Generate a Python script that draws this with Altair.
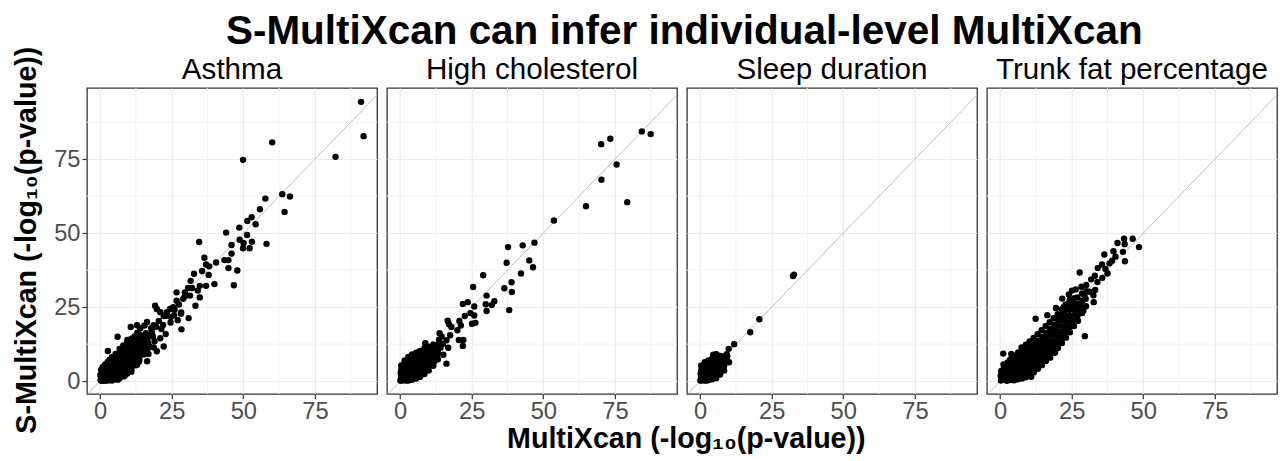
import altair as alt
import pandas as pd

FONT = "Liberation Sans"

main_title = "S-MultiXcan can infer individual-level MultiXcan"
x_label = "MultiXcan (-log\u2081\u2080(p-value))"
y_label = "S-MultiXcan (-log\u2081\u2080(p-value))"
panel_names = ["Asthma", "High cholesterol", "Sleep duration", "Trunk fat percentage"]
tick_values = [0, 25, 50, 75]
minor_values = [12.5, 37.5, 62.5, 87.5]
diag_ends = [-10, 110]

# ---- Asthma ----
asthma_x = [91.1, 92.0, 82.2, 60.1, 49.9, 63.6, 66.3, 64.4, 57.7, 55.8, 51.4, 52.9, 54.3, 48.6, 51.3,
            44.0, 48.7, 50.1, 53.0, 52.2, 49.9, 58.1, 45.9, 34.6, 45.9, 43.4, 44.8, 44.8, 47.9, 46.7,
            39.9, 40.5, 36.4, 37.0, 38.1, 35.6, 32.8, 37.9, 34.8, 37.0, 31.6, 30.7, 34.1, 34.8, 33.3,
            29.6, 29.0, 26.7, 26.7, 28.2, 30.9, 28.4, 25.5, 24.4, 23.3, 22.2, 24.7, 19.2, 19.8, 21.0,
            22.2, 19.8, 18.7, 16.4, 18.1, 14.1, 12.9, 10.7, 6.1, 2.7, 9.5, 11.8, 12.9, 16.4, 15.2,
            11.2, 7.2,
            0.2, 0.5, 0.8, 1.2, 1.5, 2.0, 2.3, 2.8, 3.1, 3.5, 4.0, 4.2, 4.6, 5.1, 5.5, 5.8, 6.2, 6.6,
            7.0, 7.3, 7.8, 8.2, 8.5, 9.0, 9.3, 9.8, 10.2, 10.6, 11.0, 11.5, 11.9, 12.4, 12.9, 13.3,
            13.8, 14.4, 14.8, 15.3, 16.0, 16.5, 17.1, 17.8, 18.4, 19.0, 0.1, 0.4, 0.9, 1.3, 1.8, 2.6,
            3.3, 0.3, 1.0, 1.7, 2.4, 3.0, 3.7, 4.4, 5.0, 5.9, 6.9, 7.5, 8.8, 10.0, 11.2, 12.0, 13.0,
            14.0, 15.5, 0.6, 1.9, 3.4, 4.8, 6.0, 7.4, 8.9, 10.4, 20.5, 21.4, 22.0, 19.6, 23.1, 21.0,
            18.7, 16.9, 24.6, 26.0, 27.5, 28.3, 29.5, 31.4, 32.1, 22.9, 25.8, 27.1,
            1.1, 2.1, 3.2, 4.3, 5.3, 6.4, 7.7, 8.6, 9.6, 10.9, 12.2, 13.6, 0.7, 1.6, 2.7, 3.9, 5.2,
            0.5, 0.5, 0.5, 1.6, 1.6, 1.6, 1.6, 2.9, 2.9, 2.9, 2.9, 2.9, 4.1, 4.1, 4.1, 4.1, 4.1, 4.1,
            5.4, 5.4, 5.4, 5.4, 5.4, 5.4, 6.8, 6.8, 6.8, 6.8, 6.8, 6.8, 6.8, 8.1, 8.1, 8.1, 8.1, 8.1,
            8.1, 8.1, 9.5, 9.5, 9.5, 9.5, 9.5, 9.5, 9.5, 10.9, 10.9, 10.9, 10.9, 10.9, 10.9, 10.9,
            12.3, 12.3, 12.3, 12.3, 12.3, 12.3, 13.7, 13.7, 13.7, 13.7, 13.7, 15.1, 15.1, 15.1, 15.1,
            16.6, 16.6, 16.6]
asthma_y = [94.4, 82.8, 75.8, 80.7, 74.8, 63.2, 62.4, 57.2, 61.7, 58.1, 54.1, 55.4, 53.0, 51.9, 49.4,
            50.2, 47.8, 46.7, 47.1, 44.9, 44.9, 46.4, 46.0, 47.0, 43.1, 40.9, 40.9, 38.2, 37.4, 32.4,
            32.8, 40.1, 41.7, 39.4, 38.8, 37.2, 36.3, 35.9, 32.2, 32.2, 33.9, 31.5, 30.6, 28.3, 25.5,
            30.0, 27.8, 30.0, 27.2, 22.8, 21.3, 17.5, 25.0, 24.4, 23.3, 22.0, 21.7, 25.5, 24.4, 23.3,
            11.7, 10.1, 18.9, 20.0, 16.7, 15.5, 18.9, 18.3, 15.0, 10.2, 13.9, 12.8, 5.5, 6.7, 11.1,
            8.9, 8.9,
            0.3, 1.0, 0.2, 1.8, 0.6, 2.5, 1.1, 0.3, 3.4, 1.9, 0.8, 4.6, 2.9, 1.5, 5.8, 3.7, 0.5, 6.9,
            4.5, 2.2, 8.1, 5.9, 3.4, 9.4, 7.1, 5.0, 10.8, 8.2, 6.3, 12.0, 9.5, 7.8, 13.4, 11.0,
            9.2, 14.9, 12.5, 10.6, 16.2, 13.9, 12.0, 17.9, 15.2, 13.5, 2.1, 3.9, 4.8, 3.2, 5.6, 6.4,
            7.2, 1.5, 0.9, 2.4, 3.6, 2.0, 5.1, 3.8, 6.8, 7.6, 8.6, 6.4, 10.9, 12.6, 13.7, 15.1, 16.4,
            17.8, 18.8, 0.1, 0.4, 0.9, 1.0, 2.6, 3.8, 4.2, 4.9, 20.3, 17.6, 19.0, 18.4, 22.1, 14.5,
            11.4, 9.2, 19.8, 24.1, 25.9, 23.2, 28.6, 28.9, 31.5, 15.9, 22.3, 20.6,
            0.1, 0.2, 0.4, 2.0, 3.0, 1.3, 2.9, 1.8, 4.1, 3.2, 5.4, 6.6, 2.9, 4.2, 5.0, 6.1, 4.0,
            0.3, 2.0, 3.6, 0.2, 1.9, 3.5, 5.1, 0.4, 2.1, 3.8, 5.5, 6.6, 0.2, 1.9, 3.6, 5.3, 7.0, 8.1,
            0.6, 2.3, 4.0, 5.7, 7.4, 9.2, 1.0, 2.7, 4.4, 6.1, 7.8, 9.6, 10.9, 1.6, 3.3, 5.0, 6.7, 8.4,
            10.2, 12.1, 2.6, 4.3, 6.0, 7.7, 9.4, 11.2, 13.0, 3.9, 5.6, 7.3, 9.0, 10.7, 12.6, 14.3,
            5.4, 7.1, 8.8, 10.5, 12.2, 14.1, 7.2, 8.9, 10.6, 12.3, 14.0, 9.0, 10.8, 12.6, 14.5,
            11.0, 13.1, 15.2]

# ---- High cholesterol ----
chol_x = [84.4, 87.5, 73.4, 70.2, 75.6, 70.3, 79.3, 64.9, 53.7, 46.9, 42.8, 37.7, 37.2, 45.1, 46.4,
          42.2, 29.0, 38.9, 36.4, 39.0, 25.5, 30.2, 32.9, 32.0, 29.9, 30.2, 38.1, 21.9, 23.6, 25.9,
          24.6, 25.9, 25.1, 26.3, 22.6, 20.7, 21.2, 20.0, 17.1, 16.6, 17.9, 20.5, 22.1, 21.9, 17.5,
          13.8, 14.5, 16.8, 16.2, 12.0, 8.8, 10.5, 12.8, 15.1,
          0.1, 0.4, 0.7, 1.0, 1.3, 1.6, 1.9, 2.2, 2.5, 2.8, 3.1, 3.5, 3.9, 4.2, 4.6, 5.0, 5.4, 5.8,
          6.2, 6.6, 7.1, 7.5, 8.0, 8.5, 9.0, 9.6, 10.2, 10.8, 11.5, 12.3, 13.0, 0.2, 0.5, 0.9, 1.5,
          2.2, 3.0, 0.3, 1.1, 2.0, 3.3, 4.4, 5.6, 6.8, 7.8, 9.3, 0.6, 1.8, 3.6, 5.2, 7.0, 14.1, 15.0,
          13.6, 16.2, 11.6, 12.8, 0.8, 2.4, 4.0, 5.3, 6.4, 8.3, 9.9, 11.2,
          0.4, 0.4, 0.4, 0.4, 1.6, 1.6, 1.6, 1.6, 1.6, 2.9, 2.9, 2.9, 2.9, 2.9, 2.9, 4.2, 4.2, 4.2,
          4.2, 4.2, 4.2, 5.6, 5.6, 5.6, 5.6, 5.6, 5.6, 7.0, 7.0, 7.0, 7.0, 7.0, 7.0, 8.5, 8.5, 8.5,
          8.5, 8.5, 8.5, 10.0, 10.0, 10.0, 10.0, 10.0, 11.6, 11.6, 11.6, 11.6, 13.2, 13.2, 13.2]
chol_y = [84.4, 83.5, 81.9, 80.1, 73.2, 68.1, 60.5, 59.1, 54.3, 46.8, 45.9, 45.3, 40.0, 40.8, 38.5,
          36.4, 35.8, 33.4, 31.4, 30.1, 31.8, 28.9, 27.0, 25.7, 26.0, 23.7, 24.0, 26.1, 26.7, 25.2,
          23.0, 22.2, 19.4, 19.7, 22.0, 20.3, 18.8, 17.2, 19.2, 20.4, 18.3, 13.9, 13.9, 11.9, 15.5,
          16.2, 15.0, 11.3, 5.9, 6.7, 12.8, 11.1, 12.2, 8.9,
          0.2, 1.2, 0.3, 2.2, 0.8, 3.1, 1.6, 0.2, 4.0, 2.5, 1.0, 4.8, 3.2, 1.8, 5.6, 4.1, 2.4, 6.5,
          4.9, 3.1, 7.4, 5.8, 4.0, 8.3, 6.6, 5.0, 9.6, 7.5, 6.2, 10.7, 9.1, 2.8, 4.3, 5.2, 6.0,
          6.8, 7.5, 1.6, 1.3, 3.4, 2.6, 3.9, 5.3, 6.0, 7.0, 8.0, 0.6, 0.5, 0.6, 1.2, 2.2, 11.3, 12.6,
          14.0, 13.8, 12.4, 8.0, 3.9, 5.8, 6.9, 8.4, 9.8, 10.1, 11.6, 9.4,
          0.2, 1.9, 3.6, 5.3, 0.3, 2.0, 3.7, 5.4, 7.0, 0.2, 1.9, 3.6, 5.3, 7.1, 8.2, 0.5, 2.2, 3.9,
          5.6, 7.3, 9.0, 0.9, 2.6, 4.3, 6.0, 7.7, 9.6, 1.5, 3.2, 4.9, 6.6, 8.3, 10.2, 2.4, 4.1, 5.8,
          7.5, 9.4, 11.1, 3.6, 5.3, 7.0, 8.8, 10.6, 5.2, 7.0, 8.9, 10.9, 7.4, 9.6, 11.8]

# ---- Sleep duration ----
sleep_x = [32.8, 32.4, 20.7, 17.5, 11.9, 10.0, 10.1, 9.3, 1.7, 4.6, 5.7, 8.0,
           0.1, 0.4, 0.7, 1.0, 1.3, 1.6, 1.9, 2.3, 2.6, 3.0, 3.4, 3.8, 4.2, 4.6, 5.0, 5.5, 6.0,
           6.5, 7.1, 7.7, 8.3, 8.9, 0.2, 0.6, 1.2, 2.0, 2.9, 3.8, 4.7, 5.6, 6.4, 7.3, 0.3, 1.5,
           2.5, 3.6, 4.8, 5.8, 0.5, 1.7, 3.0, 4.3, 9.5, 8.0,
           0.4, 0.4, 0.4, 0.4, 1.6, 1.6, 1.6, 1.6, 1.6, 2.9, 2.9, 2.9, 2.9, 2.9, 4.2, 4.2, 4.2, 4.2,
           4.2, 5.6, 5.6, 5.6, 5.6, 5.6, 7.0, 7.0, 7.0, 7.0, 7.0, 8.4, 8.4, 8.4, 8.4]
sleep_y = [36.0, 35.5, 20.9, 16.5, 12.5, 10.9, 6.4, 9.1, 5.9, 8.9, 9.1, 8.3,
           0.2, 1.1, 0.3, 1.9, 0.7, 2.6, 1.4, 0.2, 3.2, 2.0, 0.8, 3.9, 2.7, 1.5, 4.6, 3.4, 2.3,
           5.4, 4.2, 6.2, 5.1, 7.0, 2.5, 3.5, 4.2, 5.0, 5.8, 6.6, 7.3, 8.1, 7.0, 7.9, 1.5, 1.0,
           2.2, 1.6, 3.0, 4.0, 0.6, 0.4, 0.5, 0.9, 8.3, 7.6,
           0.3, 2.0, 3.7, 5.2, 0.2, 1.9, 3.6, 5.3, 6.4, 0.4, 2.1, 3.8, 5.5, 7.0, 0.6, 2.3, 4.0, 5.7,
           7.5, 1.0, 2.7, 4.4, 6.1, 7.8, 2.2, 3.9, 5.6, 7.3, 8.5, 3.6, 5.3, 7.0, 8.2]

# ---- Trunk fat percentage ----
trunk_x = [48.5, 46.3, 43.3, 41.0, 43.5, 42.9, 43.6, 39.6, 36.4, 39.1, 35.6, 34.1, 35.7, 31.8, 27.8,
           28.4, 30.1, 33.2, 29.5, 32.7, 27.3, 29.1, 29.6, 25.7, 22.9, 19.2, 17.5, 10.9, 1.1, 3.9,
           12.4, 16.5, 21.7, 25.1,
           0.3, 0.2, 0.4, 1.2, 1.1, 1.3, 1.2, 2.4, 2.5, 2.3, 2.4, 2.6, 3.6, 3.5, 3.7, 3.6, 3.5,
           4.9, 5.0, 4.8, 4.9, 5.1, 4.8, 6.2, 6.1, 6.3, 6.2, 6.0, 6.3, 7.6, 7.5, 7.7, 7.6, 7.4, 7.7,
           7.5, 9.0, 8.9, 9.1, 9.0, 8.8, 9.1, 9.0, 10.4, 10.3, 10.5, 10.4, 10.2, 10.5, 10.3, 11.8,
           11.7, 11.9, 11.8, 11.6, 11.9, 11.7, 13.2, 13.1, 13.3, 13.2, 13.0, 13.3, 13.1, 14.6, 14.5,
           14.7, 14.6, 14.4, 14.7, 14.5, 16.0, 15.9, 16.1, 16.0, 15.8, 16.1, 15.9, 17.4, 17.3, 17.5,
           17.4, 17.2, 17.5, 17.3, 18.8, 18.7, 18.9, 18.8, 18.6, 18.9, 18.7, 20.2, 20.1, 20.3, 20.2,
           20.0, 20.3, 20.1, 21.6, 21.5, 21.7, 21.6, 21.4, 21.7, 21.5, 23.0, 22.9, 23.1, 23.0, 22.8,
           23.1, 22.9, 24.4, 24.3, 24.5, 24.4, 24.2, 24.5, 24.3, 25.8, 25.7, 25.9, 25.8, 25.6, 25.9,
           27.2, 27.1, 27.3, 27.2, 27.0, 28.6, 28.5, 28.7, 28.6, 30.0, 29.9, 30.1,
           31.2, 32.6, 34.0, 33.1, 36.8, 38.2, 37.5, 40.3, 26.4, 24.0, 22.2, 19.5]
trunk_y = [45.3, 48.1, 48.1, 46.7, 46.3, 43.7, 40.5, 43.9, 42.8, 40.7, 39.4, 38.2, 34.9, 34.4, 36.7,
           31.9, 32.5, 30.8, 28.9, 26.7, 25.5, 23.8, 15.2, 18.6, 18.6, 9.7, 8.0, 1.5, 9.3, 9.2,
           21.1, 22.3, 27.9, 30.6,
           0.2, 1.8, 3.4, 0.5, 2.3, 4.1, 5.6, 0.1, 1.6, 3.3, 5.0, 6.3, 0.4, 2.2, 4.0, 5.8, 7.2,
           0.3, 1.9, 3.7, 5.4, 7.1, 8.6, 0.6, 2.5, 4.3, 6.1, 7.9, 9.7, 0.9, 2.7, 4.6, 6.4, 8.3, 10.2,
           11.4, 1.3, 3.2, 5.0, 6.9, 8.7, 10.6, 12.3, 2.1, 4.0, 5.9, 7.7, 9.6, 11.5, 13.4, 3.0,
           4.9, 6.8, 8.7, 10.6, 12.5, 14.6, 4.2, 6.1, 8.0, 9.9, 11.8, 13.7, 15.9, 5.4, 7.3,
           9.2, 11.1, 13.0, 14.9, 17.2, 6.8, 8.7, 10.6, 12.5, 14.4, 16.3, 18.6, 8.1, 10.0, 11.9,
           13.8, 15.7, 17.6, 19.9, 9.6, 11.5, 13.4, 15.3, 17.2, 19.1, 21.3, 11.2, 13.1, 15.0, 16.9,
           18.8, 20.7, 22.6, 12.9, 14.8, 16.7, 18.6, 20.5, 22.4, 24.2, 14.7, 16.6, 18.5, 20.4, 22.3,
           24.2, 25.9, 16.5, 18.4, 20.3, 22.2, 24.1, 26.0, 27.4, 18.6, 20.5, 22.4, 24.3, 26.2, 28.0,
           20.4, 22.3, 24.2, 26.1, 28.3, 23.0, 25.0, 27.1, 29.6, 25.3, 27.8, 30.4,
           30.2, 29.0, 33.5, 35.6, 37.9, 39.8, 36.4, 42.1, 31.0, 29.3, 25.1, 24.7]

panels_data = [(asthma_x, asthma_y), (chol_x, chol_y), (sleep_x, sleep_y), (trunk_x, trunk_y)]

x_scale = alt.Scale(domain=[-4.6, 96.7], nice=False, zero=False)
y_scale = alt.Scale(domain=[-4.3, 99.1], nice=False, zero=False)

minor_df = pd.DataFrame({"v": minor_values})
diag_df = pd.DataFrame({"x": diag_ends, "y": diag_ends})

W, H = 294, 310
LABEL_SIZE = 24


def make_panel(i, name, xs, ys):
    first = i == 0
    df = pd.DataFrame({"x": xs, "y": ys})
    x_axis = alt.Axis(values=tick_values, title=None, grid=True, gridColor="#EBEBEB", gridWidth=1.2,
                      domain=False, ticks=True, tickSize=5, tickColor="#333333", tickWidth=1.2,
                      labelFontSize=LABEL_SIZE, labelColor="#4D4D4D", labelFont=FONT, labelPadding=1)
    if first:
        y_axis = alt.Axis(values=tick_values, title=None, grid=True, gridColor="#EBEBEB", gridWidth=1.2,
                          domain=False, ticks=True, tickSize=5, tickColor="#333333", tickWidth=1.2,
                          labelFontSize=LABEL_SIZE, labelColor="#4D4D4D", labelFont=FONT, labelPadding=2)
    else:
        y_axis = alt.Axis(values=tick_values, title=None, grid=True, gridColor="#EBEBEB", gridWidth=1.2,
                          domain=False, ticks=False, labels=False)

    vgrid = alt.Chart(minor_df).mark_rule(color="#F3F3F3", strokeWidth=1).encode(
        x=alt.X("v:Q", scale=x_scale, axis=x_axis))
    hgrid = alt.Chart(minor_df).mark_rule(color="#F3F3F3", strokeWidth=1).encode(
        y=alt.Y("v:Q", scale=y_scale, axis=y_axis))
    diag = alt.Chart(diag_df).mark_line(color="#BEBEBE", strokeWidth=1, clip=True).encode(
        x=alt.X("x:Q", scale=x_scale), y=alt.Y("y:Q", scale=y_scale))
    pts = alt.Chart(df).mark_circle(color="black", size=42, opacity=1).encode(
        x=alt.X("x:Q", scale=x_scale), y=alt.Y("y:Q", scale=y_scale))
    return alt.layer(vgrid, hgrid, diag, pts).properties(
        width=W, height=H,
        title=alt.TitleParams(name, fontSize=30, fontWeight="normal", font=FONT, color="black",
                              offset=3, anchor="middle", frame="group"))


panels = [make_panel(i, n, xs, ys) for i, (n, (xs, ys)) in enumerate(zip(panel_names, panels_data))]

inner = alt.hconcat(*panels, spacing=6, title=alt.TitleParams(
    x_label, orient="bottom", anchor="middle", fontSize=29, fontWeight="bold", font=FONT,
    color="black", offset=1, dx=21))

mid = alt.vconcat(inner, title=alt.TitleParams(
    y_label, orient="left", anchor="middle", fontSize=29, fontWeight="bold", font=FONT,
    color="black", offset=11, dx=14))

chart = alt.vconcat(mid, title=alt.TitleParams(
    main_title, anchor="middle", fontSize=41, fontWeight="bold", font=FONT, color="black",
    offset=-6, dx=39)
).properties(padding={"left": 5, "top": 0, "right": 0, "bottom": 0}).configure_view(
    stroke="#333333", strokeWidth=1.3).configure_concat(spacing=0)

chart.save("out.html", embed_options={"renderer": "svg", "actions": False})
